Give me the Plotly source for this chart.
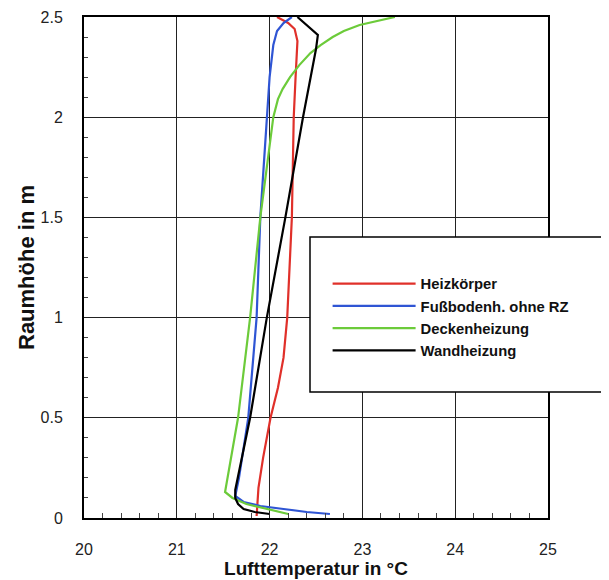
import plotly.graph_objects as go

# Heizkörper (red)
h_red = [2.5, 2.47, 2.44, 2.38, 2.2, 2.0, 1.5, 1.0, 0.8, 0.65, 0.5, 0.3, 0.15, 0.05, 0.01]
t_red = [22.08, 22.20, 22.27, 22.30, 22.28, 22.26, 22.24, 22.19, 22.15, 22.09, 22.01, 21.93, 21.88, 21.86, 21.86]

# Fußbodenh. ohne RZ (blue)
h_blue = [2.5, 2.47, 2.43, 2.36, 2.2, 2.0, 1.5, 1.0, 0.5, 0.2, 0.11, 0.08, 0.06, 0.045, 0.03, 0.02]
t_blue = [22.24, 22.15, 22.08, 22.04, 22.0, 21.97, 21.90, 21.86, 21.77, 21.67, 21.63, 21.72, 21.90, 22.15, 22.40, 22.65]

# Deckenheizung (green)
h_green = [2.5, 2.48, 2.46, 2.43, 2.4, 2.36, 2.32, 2.26, 2.2, 2.14, 2.09, 2.0, 1.5, 1.0, 0.5, 0.13, 0.1, 0.07, 0.05, 0.02]
t_green = [23.35, 23.15, 22.97, 22.80, 22.68, 22.55, 22.44, 22.32, 22.22, 22.14, 22.09, 22.04, 21.90, 21.79, 21.66, 21.52, 21.60, 21.75, 21.93, 22.20]

# Wandheizung (black)
h_black = [2.5, 2.41, 2.34, 2.0, 1.5, 1.0, 0.5, 0.14, 0.1, 0.07, 0.045, 0.03, 0.02]
t_black = [22.30, 22.52, 22.50, 22.36, 22.17, 21.97, 21.79, 21.63, 21.63, 21.66, 21.72, 21.84, 22.00]

series = [
    ("Heizkörper", t_red, h_red, "#e0302a"),
    ("Fußbodenh. ohne RZ", t_blue, h_blue, "#2f55d4"),
    ("Deckenheizung", t_green, h_green, "#6ccb3a"),
    ("Wandheizung", t_black, h_black, "#000000"),
]

x_ticks = [20, 21, 22, 23, 24, 25]
y_ticks = [0, 0.5, 1, 1.5, 2, 2.5]
y_labels = ["0", "0.5", "1", "1.5", "2", "2.5"]

fig = go.Figure()
for name, t, h, c in series:
    fig.add_trace(go.Scatter(x=t, y=h, mode="lines", name=name,
                             line=dict(color=c, width=2.2)))

font = "Liberation Sans, Arial, sans-serif"

fig.update_layout(
    width=609, height=580,
    margin=dict(l=76, r=69, t=9, b=70, autoexpand=False),
    paper_bgcolor="white", plot_bgcolor="white",
    font=dict(family=font, size=16, color="#222"),
    showlegend=True,
    legend=dict(x=0.525, y=0.50, xanchor="left", yanchor="top",
                bgcolor="rgba(0,0,0,0)", borderwidth=0,
                font=dict(family=font, size=14.8, color="#111", weight="bold"),
                itemwidth=83, tracegroupgap=0),
    xaxis=dict(range=[20, 25], tickvals=x_ticks, ticktext=[str(v) for v in x_ticks],
               showgrid=True, gridcolor="#222", gridwidth=1, automargin=False,
               showline=True, linecolor="black", linewidth=2, mirror=True,
               ticks="inside", ticklen=6, tickcolor="#222",
               minor=dict(dtick=0.2, ticks="inside", ticklen=5, tickcolor="#444", showgrid=False),
               ticklabelstandoff=16, zeroline=False,
               title=dict(text="<b>Lufttemperatur in °C</b>", font=dict(size=19, color="#111"), standoff=0)),
    yaxis=dict(range=[0, 2.5], tickvals=y_ticks, ticktext=y_labels,
               showgrid=True, gridcolor="#222", gridwidth=1, automargin=False,
               showline=True, linecolor="black", linewidth=2, mirror=True,
               ticks="inside", ticklen=6, tickcolor="#222",
               minor=dict(dtick=0.1, ticks="inside", ticklen=4, tickcolor="#444", showgrid=False),
               ticklabelstandoff=16, zeroline=False,
               title=dict(text="<b>Raumhöhe in m</b>", font=dict(size=22, color="#111"), standoff=0)),
    shapes=[dict(type="rect", xref="paper", yref="paper", layer="above",
                 x0=(310 - 84) / 464, x1=(625 - 84) / 464,
                 y0=(518 - 392) / 501, y1=(518 - 237) / 501,
                 fillcolor="white", line=dict(color="black", width=1.5))],
)

fig.write_html("out.html")
